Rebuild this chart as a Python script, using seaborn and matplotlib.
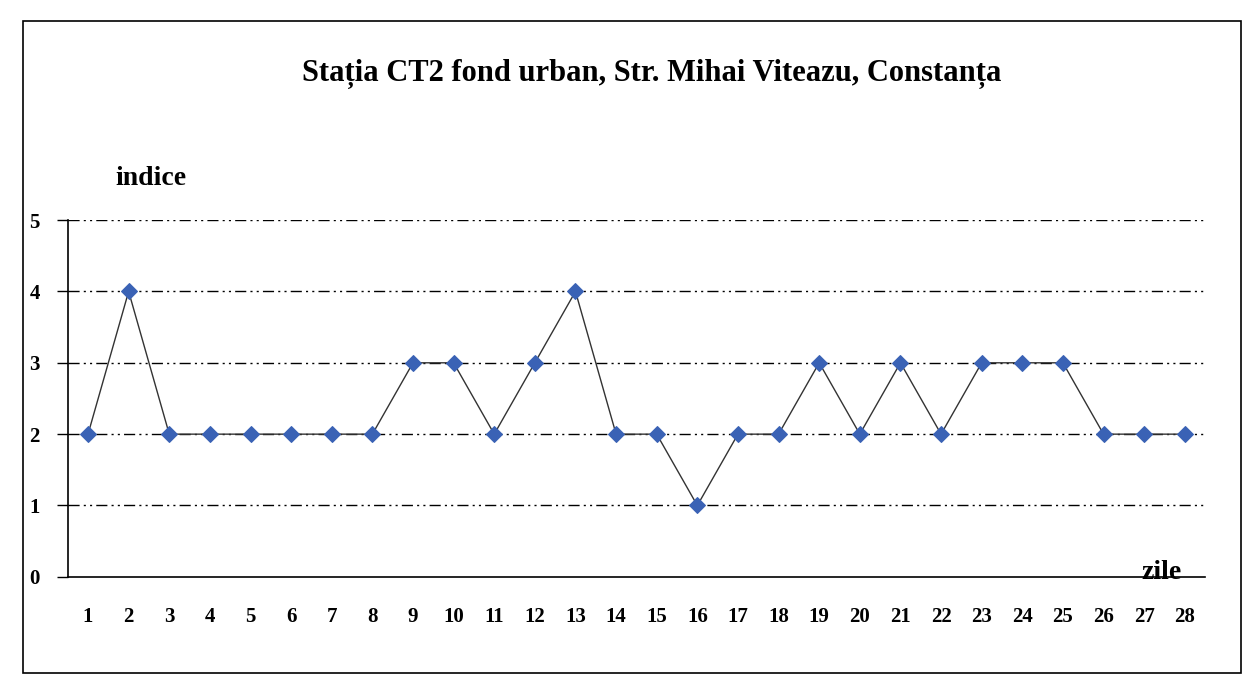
import matplotlib
matplotlib.use("Agg")
import matplotlib.pyplot as plt
import seaborn as sns
import pandas as pd
from matplotlib.patches import Rectangle

days = list(range(1, 29))
values = [2, 4, 2, 2, 2, 2, 2, 2, 3, 3, 2, 3, 4, 2, 2, 1, 2, 2, 3, 2, 3, 2, 3, 3, 3, 2, 2, 2]
title = "Stația CT2 fond urban, Str. Mihai Viteazu, Constanța"
y_label = "indice"
x_label = "zile"
y_ticks = [0, 1, 2, 3, 4, 5]

sns.set_theme(style="white")
plt.rcParams['font.family'] = ['Liberation Serif', 'DejaVu Serif']
plt.rcParams['text.color'] = 'black'
plt.rcParams['xtick.color'] = 'black'
plt.rcParams['ytick.color'] = 'black'

df = pd.DataFrame({"pos": list(range(len(days))), "val": values})

fig = plt.figure(figsize=(12.54, 6.9), dpi=100)
ax = fig.add_axes([0.054, 0.164, 0.907, 0.517])

for yv in y_ticks[1:]:
    ax.axhline(yv, color="black", lw=1.0, dashes=(8, 3, 1.5, 3, 1.5, 3), zorder=1)

sns.lineplot(data=df, x="pos", y="val", ax=ax, color="#333333", lw=1.0,
             marker="D", markersize=8, markerfacecolor="#3a62b5",
             markeredgecolor="#3a62b5", zorder=3)

ax.set_xlim(-0.5, len(days) - 0.5)
ax.set_ylim(0, 5)
ax.set_xticks(list(range(len(days))))
ax.set_xticklabels([str(d) for d in days], fontsize=15, fontweight="bold")
ax.set_xticks([i - 0.5 for i in range(len(days) + 1)], minor=True)
ax.tick_params(axis="x", which="major", length=0, pad=22)
ax.tick_params(axis="x", which="minor", length=8, width=1, color="black", direction="out")
ax.set_yticks(y_ticks)
ax.set_yticklabels([str(t) for t in y_ticks], fontsize=15, fontweight="bold")
ax.tick_params(axis="y", length=8, width=1, color="black", direction="out", left=True, pad=12)
ax.set_xlabel("")
ax.set_ylabel("")

for s in ["top", "right"]:
    ax.spines[s].set_visible(False)
for s in ["left", "bottom"]:
    ax.spines[s].set_color("black")
    ax.spines[s].set_linewidth(1.2)

fig.text(0.52, 0.893, title, ha="center", va="center", fontsize=22, fontweight="bold")
fig.text(0.12, 0.742, y_label, ha="center", va="center", fontsize=20, fontweight="bold")
fig.text(0.926, 0.17, x_label, ha="center", va="center", fontsize=20, fontweight="bold")

fig.patches.append(Rectangle((0.018, 0.025), 0.972, 0.945, transform=fig.transFigure,
                             fill=False, edgecolor="black", lw=1.2))

fig.savefig("out.png", dpi=100, facecolor="white")
